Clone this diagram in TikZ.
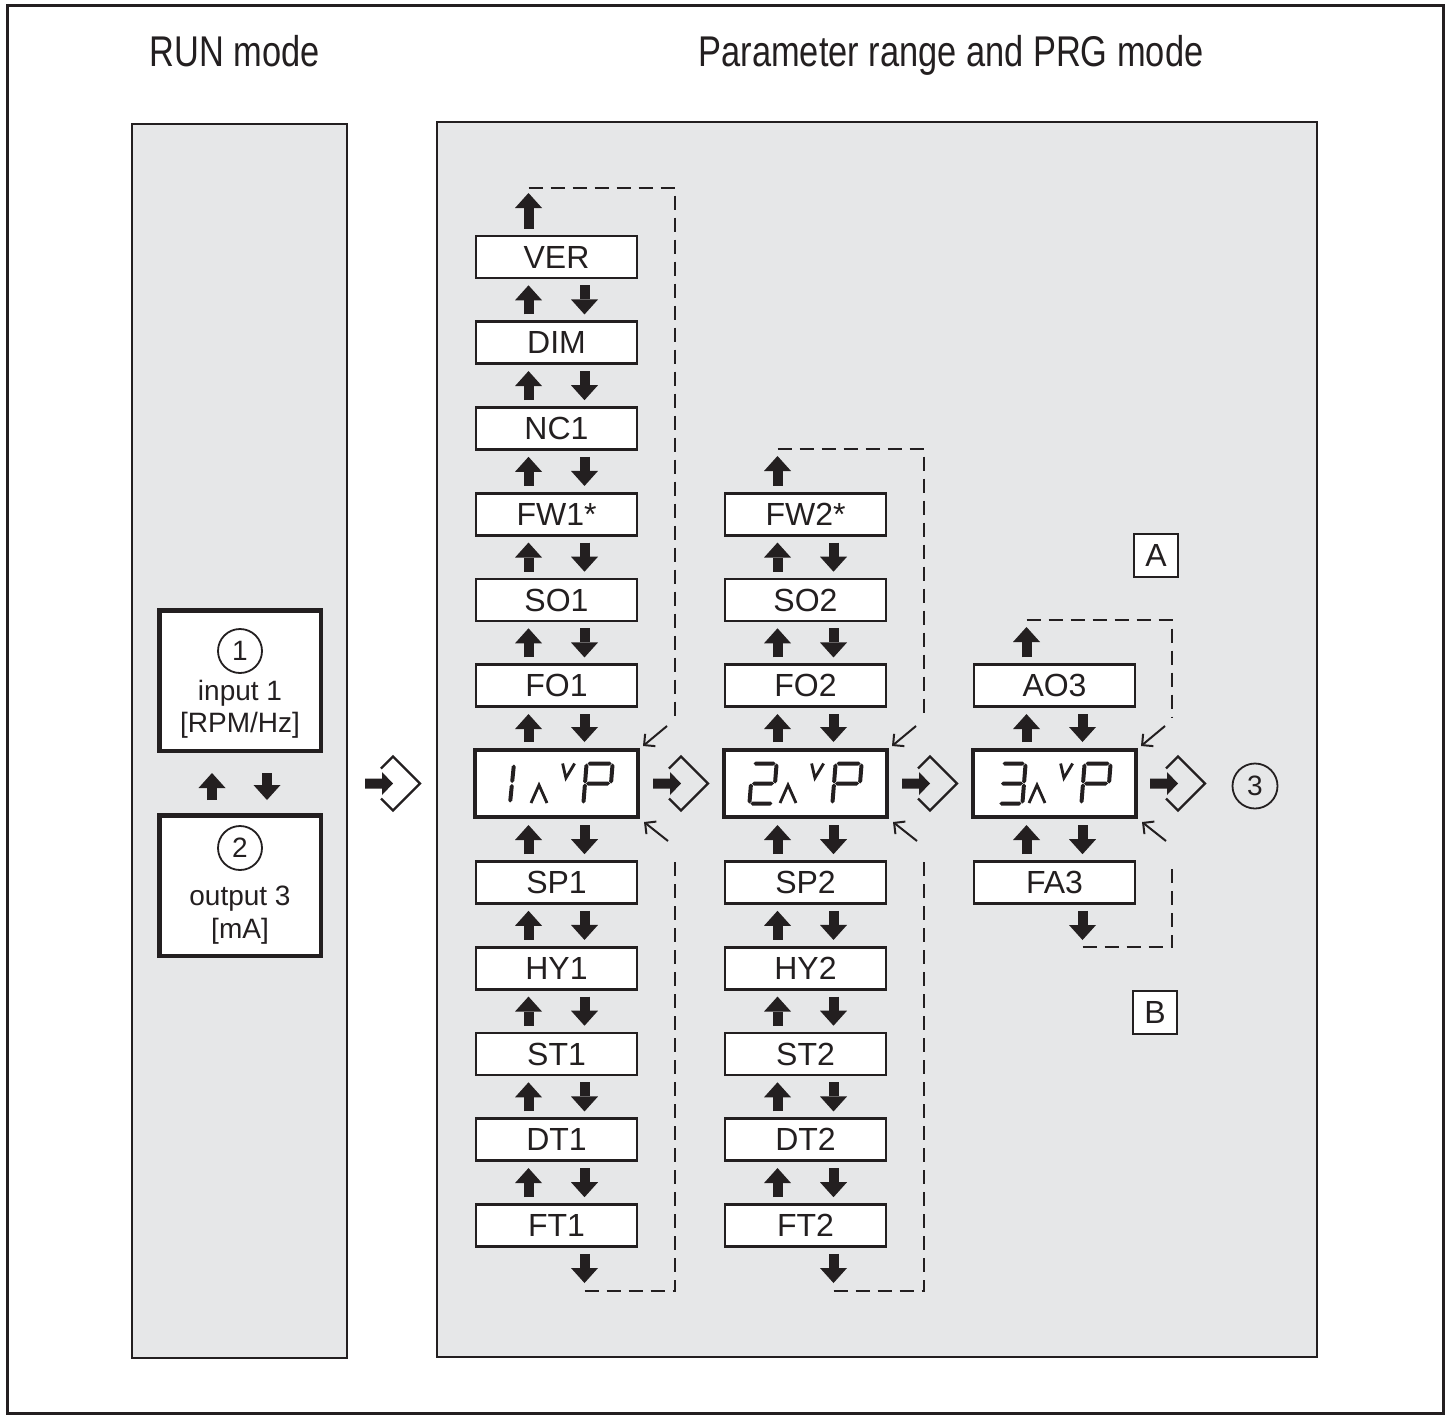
\documentclass[tikz,border=0pt]{standalone}
\usepackage{fontspec}
\setmainfont{Liberation Sans}
\newfontfamily\titlefont[FakeStretch=0.8]{Liberation Sans}
\usetikzlibrary{arrows.meta,calc}
\definecolor{ink}{HTML}{231F20}
\definecolor{panel}{HTML}{E6E7E8}
% 7-segment pieces (pointed ends), drawn in local pixel coordinates
\newcommand\hsg[3]{\fill[ink] (#1,#3) -- ({#1+2},{#3-2}) -- ({#2-2},{#3-2}) -- (#2,#3) -- ({#2-2},{#3+2}) -- ({#1+2},{#3+2}) -- cycle;}
\newcommand\vsg[3]{\fill[ink] (#1,#2) -- ({#1+2},{#2+2}) -- ({#1+2},{#3-2}) -- (#1,#3) -- ({#1-2},{#3-2}) -- ({#1-2},{#2+2}) -- cycle;}
\tikzset{
  param/.style={draw=ink, fill=white, line width=2.6pt, minimum width=161pt, minimum height=42pt, inner sep=0pt, text=ink, font=\fontsize{32}{36}\selectfont},
  disp/.style={draw=ink, fill=white, line width=4pt, minimum width=163pt, minimum height=67pt, inner sep=0pt},
  runbox/.style={draw=ink, fill=white, line width=4.5pt, minimum width=161.5pt, minimum height=140.5pt, inner sep=0pt},
  bigarr/.style={draw=ink, line width=10pt, -{Triangle[width=27pt,length=15pt,line width=0pt]}, shorten <=6pt, shorten >=6pt},
  loopline/.style={draw=ink, line width=2.2pt, dash pattern=on 14pt off 8pt},
  thinarr/.style={draw=ink, line width=2pt, -{Straight Barb[length=8pt,width=16pt]}},
  dseg/.style={draw=ink, line width=2.8pt, line join=miter},
  letterbox/.style={draw=ink, fill=white, line width=1.8pt, minimum width=44pt, minimum height=43pt, inner sep=0pt, text=ink, font=\fontsize{32}{36}\selectfont},
  numcirc/.style={circle, draw=ink, line width=1.8pt, minimum size=44pt, inner sep=0pt, text=ink, font=\fontsize{28}{32}\selectfont},
  lbl/.style={font=\fontsize{28}{32}\selectfont, inner sep=0pt, text=ink},
  title/.style={font=\titlefont\fontsize{43}{48}\selectfont, inner sep=0pt, text=ink},
  enter/.pic={
    \fill[ink] (0,-5) -- (17,-5) -- (17,-11.5) -- (28,0) -- (17,11.5) -- (17,5) -- (0,5) -- cycle;
    \draw[ink, line width=2.4pt, line join=miter] (16,-15) -- (28,-27) -- (55,0) -- (28,27) -- (16,15);
  },
  lcdtail/.pic={
    \draw[dseg] (58,19.5) -- (66,1.5) -- (74,19.5);
    \begin{scope}[xslant=0.08]
      \draw[dseg] (88,-20) -- (92.5,-5.5) -- (100,-20);
      \hsg{113}{137}{-20}
      \vsg{112}{-20}{0}
      \vsg{138}{-20}{0}
      \hsg{113}{137}{0}
      \vsg{112}{0}{20}
    \end{scope}
  },
  lcdone/.pic={
    \begin{scope}[xslant=0.1]
      \vsg{39}{-19}{-0.5}
      \vsg{39}{0.5}{19}
    \end{scope}
    \pic {lcdtail};
  },
  lcdtwo/.pic={
    \begin{scope}[xslant=0.08]
      \hsg{30}{52}{-20}
      \vsg{53}{-20}{0}
      \hsg{30}{52}{0}
      \vsg{29}{0}{20}
      \hsg{30}{52}{20}
    \end{scope}
    \pic {lcdtail};
  },
  lcdthree/.pic={
    \begin{scope}[xslant=0.08]
      \hsg{30}{52}{-20}
      \vsg{53}{-20}{0}
      \hsg{30}{52}{0}
      \vsg{53}{0}{20}
      \hsg{30}{52}{20}
    \end{scope}
    \pic {lcdtail};
  },
}
\begin{document}
\begin{tikzpicture}[x=1pt,y=-1pt]
\useasboundingbox (0,0) rectangle (1450,1416);
\fill[white] (0,0) rectangle (1450,1416);
\draw[ink, line width=3pt] (7,5) rectangle (1443,1413);

% titles
\node[title, anchor=base] (trun) at (235,66) {RUN mode};
\node[title, anchor=base] (tprg) at (951,66) {Parameter range and PRG mode};

% panels
\draw[ink, fill=panel, line width=1.5pt] (132,124) rectangle (347,1358);
\draw[ink, fill=panel, line width=1.5pt] (437,122) rectangle (1317,1357);

% RUN mode boxes
\node[runbox] (r1) at (240,680.5) {};
\node[numcirc] (c1) at (240,651) {1};
\node[lbl, anchor=base] (r1a) at (240,700) {input 1};
\node[lbl, anchor=base] (r1b) at (240,732) {[RPM/Hz]};
\node[runbox] (r2) at (240,885.5) {};
\node[numcirc] (c2) at (240,848) {2};
\node[lbl, anchor=base] (r2a) at (240,905) {output 3};
\node[lbl, anchor=base] (r2b) at (240,938) {[mA]};
\draw[bigarr, shorten <=13pt, shorten >=20pt] ([xshift=-28pt]r2.north) -- ([xshift=-28pt]r1.south);
\draw[bigarr, shorten <=20pt, shorten >=13pt] ([xshift=27pt]r1.south) -- ([xshift=27pt]r2.north);

% entry symbol
\coordinate (e0) at (365,783.5);
\pic at (e0) {enter};

% column 1
\node[param] (ver) at (556.5,257) {VER};
\node[param] (dim) at (556.5,342.75) {DIM};
\node[param] (nci) at (556.5,428.5) {NC1};
\node[param] (fwi) at (556.5,514.25) {FW1*};
\node[param] (soi) at (556.5,600) {SO1};
\node[param] (foi) at (556.5,685.75) {FO1};
\node[disp]  (di)  at (556.5,783.5) {};
\node[param] (spi) at (556.5,882.5) {SP1};
\node[param] (hyi) at (556.5,968.25) {HY1};
\node[param] (sti) at (556.5,1054) {ST1};
\node[param] (dti) at (556.5,1139.75) {DT1};
\node[param] (fti) at (556.5,1225.5) {FT1};
\pic at (di.west) {lcdone};

% column 2
\node[param] (fwii) at (805.5,514.25) {FW2*};
\node[param] (soii) at (805.5,600) {SO2};
\node[param] (foii) at (805.5,685.75) {FO2};
\node[disp]  (dii)  at (805.5,783.5) {};
\node[param] (spii) at (805.5,882.5) {SP2};
\node[param] (hyii) at (805.5,968.25) {HY2};
\node[param] (stii) at (805.5,1054) {ST2};
\node[param] (dtii) at (805.5,1139.75) {DT2};
\node[param] (ftii) at (805.5,1225.5) {FT2};
\pic at (dii.west) {lcdtwo};

% column 3
\node[param] (aoiii) at (1054.5,685.75) {AO3};
\node[disp]  (diii)  at (1054.5,783.5) {};
\node[param] (faiii) at (1054.5,882.5) {FA3};
\pic at (diii.west) {lcdthree};

% up/down arrows between neighbours
\foreach \a/\b in {ver/dim,dim/nci,nci/fwi,fwi/soi,soi/foi,foi/di,di/spi,spi/hyi,hyi/sti,sti/dti,dti/fti,
                   fwii/soii,soii/foii,foii/dii,dii/spii,spii/hyii,hyii/stii,stii/dtii,dtii/ftii,
                   aoiii/diii,diii/faiii}{
  \draw[bigarr] ([xshift=-28pt]\b.north) -- ([xshift=-28pt]\a.south);
  \draw[bigarr] ([xshift=28pt]\a.south) -- ([xshift=28pt]\b.north);
}

% loops column 1
\coordinate (ti) at (528.5,193);
\coordinate (tid) at (528.5,188);
\coordinate (bi) at (584.5,1283);
\coordinate (bid) at (584.5,1291);
\draw[bigarr, shorten >=0pt] ([xshift=-28pt]ver.north) -- (ti);
\draw[bigarr, shorten >=0pt] ([xshift=28pt]fti.south) -- (bi);
\draw[loopline] (tid) -- (675,188) -- (675,716);
\draw[loopline] (bid) -- (675,1291) -- (675,857);

% loops column 2
\coordinate (tii) at (777.5,456);
\coordinate (tiid) at (777.5,449);
\coordinate (bii) at (833.5,1283);
\coordinate (biid) at (833.5,1291);
\draw[bigarr, shorten >=0pt] ([xshift=-28pt]fwii.north) -- (tii);
\draw[bigarr, shorten >=0pt] ([xshift=28pt]ftii.south) -- (bii);
\draw[loopline] (tiid) -- (924,449) -- (924,716);
\draw[loopline] (biid) -- (924,1291) -- (924,857);

% loops column 3
\coordinate (tiii) at (1026.5,627);
\coordinate (tiiid) at (1026.5,620);
\coordinate (biii) at (1082.5,940);
\coordinate (biiid) at (1082.5,947);
\draw[bigarr, shorten >=0pt] ([xshift=-28pt]aoiii.north) -- (tiii);
\draw[bigarr, shorten >=0pt] ([xshift=28pt]faiii.south) -- (biii);
\draw[loopline] (tiiid) -- (1172,620) -- (1172,718);
\draw[loopline] (biiid) -- (1172,947) -- (1172,862);

% diagonal re-entry arrows
\foreach \d in {di,dii,diii}{
  \draw[thinarr] ($(\d.north east)+(27,-22)$) -- ($(\d.north east)+(3,-2)$);
  \draw[thinarr] ($(\d.south east)+(28,22)$) -- ($(\d.south east)+(4,3)$);
}

% transitions
\pic at ([xshift=13pt]di.east) {enter};
\pic at ([xshift=13pt]dii.east) {enter};
\pic at ([xshift=12pt]diii.east) {enter};
\node[numcirc, minimum size=45pt] (c3) at (1255,786) {3};

% A / B
\node[letterbox] (A) at (1156,555.5) {A};
\node[letterbox] (B) at (1155,1012.5) {B};
\end{tikzpicture}
\end{document}
